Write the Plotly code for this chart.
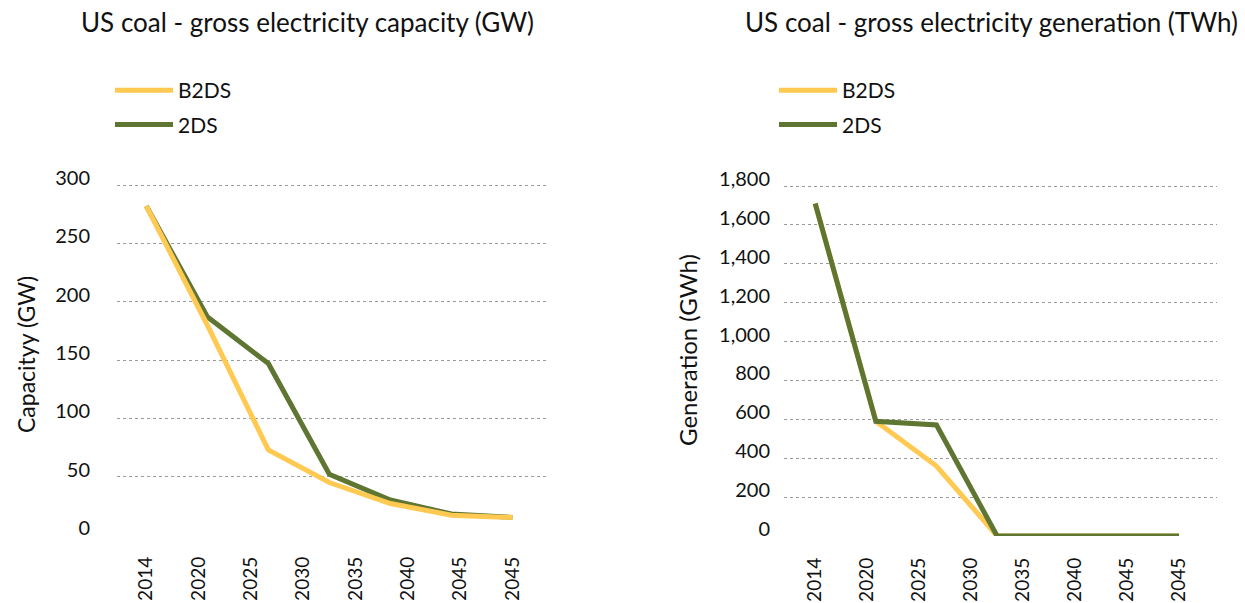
import numpy as np
import plotly.graph_objects as go

# ---- data ----
tick_labels = ["2014", "2020", "2025", "2030", "2035", "2040", "2045", "2045"]
cap_b2ds = [282, 180, 73, 45, 27, 17, 15]
cap_2ds = [282, 187, 147, 52, 30, 18, 15]
gen_b2ds = [1710, 590, 360, 0, 0, 0, 0]
gen_2ds = [1710, 590, 571, 0, 0, 0, 0]
cap_ticks = [0, 50, 100, 150, 200, 250, 300]
gen_ticks = [0, 200, 400, 600, 800, 1000, 1200, 1400, 1600, 1800]

YELLOW = "#FFC952"
GREEN = "#5F7632"
FONT = "Lato"
W, H = 1245, 603

tick_pos = list(range(len(tick_labels)))
# the data points are spread evenly over the full label span (as in the source)
pts = np.linspace(0, len(tick_labels) - 1, len(cap_b2ds))

fig = go.Figure()
# left chart: yellow drawn above green
fig.add_trace(go.Scatter(x=pts, y=cap_2ds, name="2DS", mode="lines",
                         line=dict(color=GREEN, width=5), xaxis="x", yaxis="y",
                         legend="legend", legendgroup="a2", legendrank=2))
fig.add_trace(go.Scatter(x=pts, y=cap_b2ds, name="B2DS", mode="lines",
                         line=dict(color=YELLOW, width=5), xaxis="x", yaxis="y",
                         legend="legend", legendgroup="a1", legendrank=1))
# right chart: green drawn above yellow
fig.add_trace(go.Scatter(x=pts, y=gen_b2ds, name="B2DS", mode="lines",
                         line=dict(color=YELLOW, width=5), xaxis="x2", yaxis="y2",
                         legend="legend2", legendgroup="b1", legendrank=1))
fig.add_trace(go.Scatter(x=pts, y=gen_2ds, name="2DS", mode="lines",
                         line=dict(color=GREEN, width=5), xaxis="x2", yaxis="y2",
                         legend="legend2", legendgroup="b2", legendrank=2))

def px_x(p):
    return p / W

def px_y(p):
    return 1 - p / H

grid = dict(showgrid=True, gridcolor="#9a9a9a", gridwidth=1, griddash="dot",
            zeroline=False, showline=False, ticks="", automargin=False,
            ticklabelshift=-7)

xcommon = dict(tickmode="array", tickvals=tick_pos, ticktext=tick_labels,
               tickangle=-90, showgrid=False, zeroline=False, showline=False,
               ticks="", tickfont=dict(family=FONT, size=19, color="#111"),
               ticklabelstandoff=17, automargin=False)

# plot areas extend a few px above the top grid line so that line is drawn
fig.update_layout(
    width=W, height=H,
    margin=dict(l=0, r=0, t=0, b=0, pad=0, autoexpand=False),
    paper_bgcolor="white", plot_bgcolor="white",
    font=dict(family=FONT, color="#111"),
    xaxis=dict(domain=[px_x(117), px_x(548)], range=[-0.56, 7.68],
               anchor="y", **xcommon),
    yaxis=dict(domain=[px_y(535), px_y(175)], range=[0, 300 * 360 / 350], anchor="x",
               tickvals=cap_ticks, tickfont=dict(family=FONT, size=20, color="#111"),
               ticklabelstandoff=26, **grid),
    xaxis2=dict(domain=[px_x(784), px_x(1217)], range=[-0.6, 7.73],
                anchor="y2", **xcommon),
    yaxis2=dict(domain=[px_y(536), px_y(176)], range=[0, 1800 * 360 / 350], anchor="x2",
                tickvals=gen_ticks, tickformat=",", tickfont=dict(family=FONT, size=20, color="#111"),
                ticklabelstandoff=13, **grid),
    legend=dict(x=px_x(110), y=px_y(70), xanchor="left", yanchor="top",
                font=dict(family=FONT, size=21, color="#111"),
                traceorder="grouped", tracegroupgap=4, itemwidth=58,
                bgcolor="rgba(0,0,0,0)"),
    legend2=dict(x=px_x(774), y=px_y(70), xanchor="left", yanchor="top",
                 font=dict(family=FONT, size=21, color="#111"),
                 traceorder="grouped", tracegroupgap=4, itemwidth=58,
                 bgcolor="rgba(0,0,0,0)"),
    annotations=[
        dict(text="US coal - gross electricity capacity (GW)", x=px_x(307), y=px_y(22),
             xref="paper", yref="paper", xanchor="center", yanchor="middle",
             showarrow=False, font=dict(family=FONT, size=26, color="#111")),
        dict(text="US coal - gross electricity generation (TWh)", x=px_x(991), y=px_y(22),
             xref="paper", yref="paper", xanchor="center", yanchor="middle",
             showarrow=False, font=dict(family=FONT, size=26, color="#111")),
        dict(text="Capacityy (GW)", x=px_x(26), y=px_y(355), textangle=-90,
             xref="paper", yref="paper", xanchor="center", yanchor="middle",
             showarrow=False, font=dict(family=FONT, size=23, color="#111")),
        dict(text="Generation (GWh)", x=px_x(687), y=px_y(350), textangle=-90,
             xref="paper", yref="paper", xanchor="center", yanchor="middle",
             showarrow=False, font=dict(family=FONT, size=24, color="#111")),
    ],
    showlegend=True,
)

fig.write_html("out.html", post_script="document.body.style.margin='0';",
               config={"displayModeBar": False})
